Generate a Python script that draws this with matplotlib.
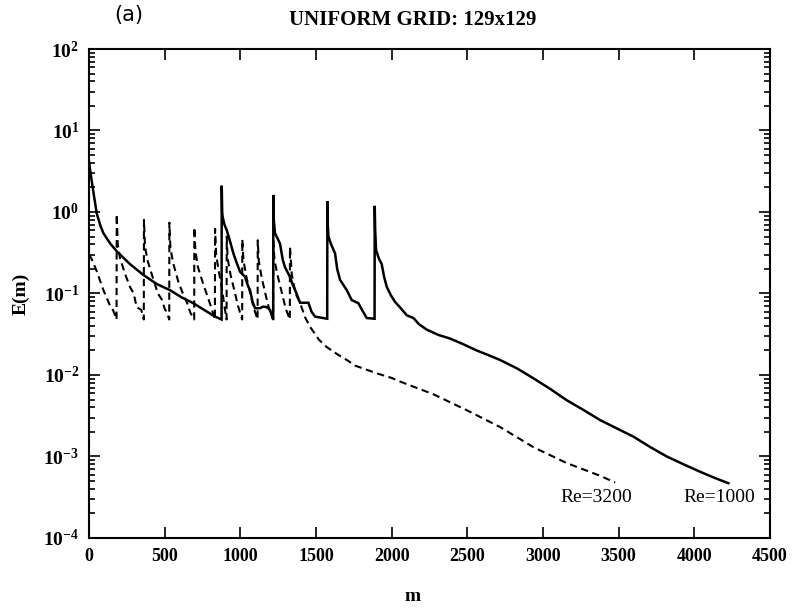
#libraries
import matplotlib
matplotlib.use('Agg')
import matplotlib.pyplot as plt
from matplotlib.ticker import FixedLocator, LogLocator, NullFormatter

# Re=1000 (solid) - iteration number m and error E(m)
m_1000 = [0, 8, 18, 28, 51, 75, 95, 140, 183, 270, 359, 450, 535, 610, 689, 760, 833, 876,
          877, 880, 883, 895, 910, 930, 954, 975, 998, 1031, 1050, 1064, 1080, 1097, 1130, 1150, 1175, 1196, 1210, 1217,
          1218, 1221, 1229, 1262, 1280, 1295, 1328, 1345, 1362, 1395, 1450, 1470, 1494, 1574,
          1575, 1578, 1582, 1600, 1626, 1640, 1659, 1703, 1736, 1780, 1800, 1835, 1887,
          1888, 1891, 1897, 1915, 1934, 1950, 1968, 1995, 2022, 2060, 2100, 2144, 2180, 2232, 2309,
          2386, 2470, 2562, 2640, 2716, 2830, 2937, 3050, 3157, 3270, 3377, 3490, 3598, 3710,
          3818, 3930, 4038, 4130, 4225]
E_1000 = [4.2, 3.2, 2.4, 1.8, 0.96, 0.68, 0.55, 0.41, 0.33, 0.23, 0.169, 0.13, 0.11, 0.09, 0.076, 0.063, 0.052, 0.048,
          2.1, 1.0, 0.87, 0.70, 0.60, 0.45, 0.31, 0.24, 0.185, 0.16, 0.125, 0.11, 0.08, 0.066, 0.066, 0.069, 0.068, 0.063, 0.052, 0.048,
          1.62, 0.8, 0.55, 0.41, 0.26, 0.21, 0.16, 0.13, 0.11, 0.077, 0.077, 0.06, 0.052, 0.049,
          1.36, 0.7, 0.50, 0.40, 0.31, 0.2, 0.147, 0.11, 0.083, 0.076, 0.065, 0.050, 0.049,
          1.19, 0.6, 0.34, 0.27, 0.23, 0.16, 0.12, 0.095, 0.079, 0.066, 0.054, 0.050, 0.042, 0.036, 0.031,
          0.028, 0.024, 0.020, 0.0175, 0.0153, 0.012, 0.0091, 0.0067, 0.0049, 0.0037, 0.0028, 0.0022, 0.00175, 0.0013,
          0.0010, 0.0008, 0.00065, 0.00055, 0.00047]

# Re=3200 (dashed)
m_3200 = [0, 15, 50, 95, 140, 160, 182,
          183, 190, 205, 240, 271, 295, 315, 345, 362,
          363, 370, 385, 420, 455, 480, 500, 515, 530,
          531, 538, 555, 590, 620, 650, 670, 695,
          696, 703, 720, 755, 785, 805, 832,
          833, 840, 855, 880, 895, 909,
          910, 916, 935, 960, 985, 1012,
          1013, 1020, 1040, 1065, 1090, 1114,
          1115, 1122, 1140, 1165, 1190, 1217,
          1218, 1225, 1245, 1270, 1300, 1327,
          1328, 1340, 1365, 1395, 1430, 1461, 1520, 1571, 1640, 1703, 1760, 1813, 1900, 2000,
          2056, 2276, 2496, 2716, 2937, 3157, 3377, 3477]
E_3200 = [0.30, 0.27, 0.19, 0.11, 0.07, 0.062, 0.048,
          0.94, 0.40, 0.27, 0.17, 0.12, 0.10, 0.068, 0.063, 0.048,
          0.80, 0.38, 0.26, 0.16, 0.10, 0.085, 0.065, 0.058, 0.048,
          0.74, 0.36, 0.24, 0.14, 0.10, 0.075, 0.058, 0.048,
          0.65, 0.33, 0.21, 0.13, 0.09, 0.07, 0.048,
          0.62, 0.30, 0.20, 0.11, 0.07, 0.048,
          0.50, 0.27, 0.17, 0.11, 0.07, 0.048,
          0.46, 0.26, 0.16, 0.10, 0.065, 0.048,
          0.45, 0.25, 0.16, 0.10, 0.065, 0.048,
          0.45, 0.26, 0.17, 0.11, 0.065, 0.048,
          0.37, 0.17, 0.10, 0.076, 0.05, 0.039, 0.027, 0.022, 0.018, 0.0153, 0.013, 0.012, 0.0105, 0.0092,
          0.0083, 0.0058, 0.0037, 0.0023, 0.0013, 0.00083, 0.00058, 0.00048]

x_ticks = [0, 500, 1000, 1500, 2000, 2500, 3000, 3500, 4000, 4500]
y_exps = [-4, -3, -2, -1, 0, 1, 2]

# fonts - Times-like serif
plt.rcParams['font.family'] = ['Liberation Serif', 'DejaVu Serif']
plt.rcParams['mathtext.fontset'] = 'custom'
plt.rcParams['mathtext.rm'] = 'Liberation Serif'
plt.rcParams['mathtext.bf'] = 'Liberation Serif:bold'

fig = plt.figure(figsize=(7.92, 6.11), dpi=100)
ax = fig.add_axes([0.1124, 0.1195, 0.8598, 0.8003])

ax.plot(m_1000, E_1000, color='black', lw=1.8, solid_joinstyle='miter')
ax.plot(m_3200, E_3200, color='black', lw=1.5, linestyle=(0, (3.5, 2.2)))

ax.set_yscale('log')
ax.set_xlim(0, 4500)
ax.set_ylim(1e-4, 1e2)

# ticks
ax.xaxis.set_major_locator(FixedLocator(x_ticks))
ax.set_xticklabels([str(t) for t in x_ticks], fontsize=13, fontweight='bold')
ax.yaxis.set_major_locator(FixedLocator([10.0 ** e for e in y_exps]))
ax.yaxis.set_minor_locator(LogLocator(base=10, subs=range(2, 10), numticks=20))
ax.yaxis.set_minor_formatter(NullFormatter())
ax.set_yticklabels([r'$\mathbf{10^{%d}}$' % e for e in y_exps], fontsize=14)
ax.tick_params(which='both', direction='in', top=True, right=True, width=1.2)
ax.tick_params(which='major', length=8, pad=7)
ax.tick_params(which='minor', length=4)
for s in ax.spines.values():
    s.set_linewidth(1.5)

ax.set_ylabel('E(m)', fontsize=14, fontweight='bold', labelpad=10)
fig.text(0.521, 0.024, 'm', fontsize=14, fontweight='bold', ha='center', va='center')

# title and panel letter
fig.text(0.521, 0.968, 'UNIFORM GRID: 129x129', fontsize=15, fontweight='bold', ha='center', va='center')
fig.text(0.162, 0.975, '(a)', fontsize=15, family='DejaVu Sans', ha='center', va='center')

ax.text(3351, 3.1e-4, 'Re=3200', fontsize=14, ha='center', va='center')
ax.text(4164, 3.1e-4, 'Re=1000', fontsize=14, ha='center', va='center')

plt.savefig('out.png', dpi=100)
